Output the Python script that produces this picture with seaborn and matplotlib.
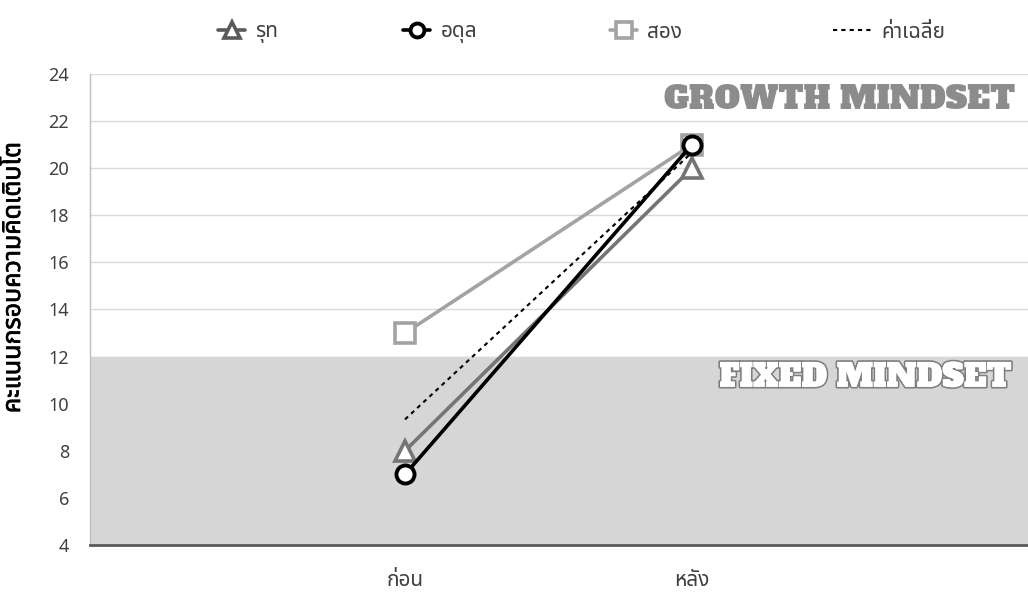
import matplotlib
matplotlib.use("Agg")
import matplotlib.pyplot as plt
from matplotlib import font_manager as fm
from matplotlib.lines import Line2D
import matplotlib.patheffects as pe
import seaborn as sns
import pandas as pd
import numpy as np

# ---- data ----
categories = ["ก่อน", "หลัง"]
series_names = ["รุท", "อดุล", "สอง"]
rut = [8, 20]
adul = [7, 21]
song = [13, 21]
avg_label = "ค่าเฉลี่ย"
y_label = "คะแนนกรอบความคิดเติบโต"
y_ticks = [4, 6, 8, 10, 12, 14, 16, 18, 20, 22, 24]
fixed_upper = 12
growth_text = "GROWTH MINDSET"
fixed_text = "FIXED MINDSET"

available = set(f.name for f in fm.fontManager.ttflist)
def pick(cands, default="DejaVu Sans"):
    for c in cands:
        if c in available:
            return c
    return default

thai = pick(["Noto Sans Thai", "Noto Sans Thai UI", "Sarabun", "Anuphan", "IBM Plex Sans Thai", "Bai Jamjuree", "Loma"])
slab = pick(["Alfa Slab One", "Roboto Slab", "Zilla Slab", "DejaVu Serif"])

sns.set_theme(style="white")
plt.rcParams["font.family"] = [thai, "DejaVu Sans"]

x_pos = list(range(len(categories)))
rows = []
for name, vals in zip(series_names, [rut, adul, song]):
    for x, v in zip(x_pos, vals):
        rows.append({"x": x, "y": v, "series": name})
df = pd.DataFrame(rows)
avg = [np.mean([a, b, c]) for a, b, c in zip(rut, adul, song)]
df_avg = pd.DataFrame({"x": x_pos, "y": avg})

W, H = 1028, 595
fig = plt.figure(figsize=(W / 100, H / 100), dpi=100)
ax = fig.add_axes([90 / W, 1 - 545 / H, 1 - 90 / W, (545 - 74) / H])

ax.axhspan(y_ticks[0], fixed_upper, color="#d6d6d6", zorder=0)
for t in y_ticks[1:]:
    ax.axhline(t, color="#d9d9d9", lw=1, zorder=0.5)

grey_song = "#a3a3a3"
grey_rut = "#757575"
for name, vals_color, mk, ms, z in [("สอง", grey_song, "s", 14, 2), ("รุท", grey_rut, "^", 15, 3)]:
    sns.lineplot(data=df[df.series == name], x="x", y="y", ax=ax, color=vals_color,
                 lw=2.6, marker=mk, markersize=ms, markerfacecolor="white",
                 markeredgecolor=vals_color, markeredgewidth=2.6, zorder=z, legend=False)
sns.lineplot(data=df_avg, x="x", y="y", ax=ax, color="black", lw=1.5, linestyle=(0, (2, 2)),
             zorder=4, legend=False)
sns.lineplot(data=df[df.series == "อดุล"], x="x", y="y", ax=ax, color="black",
             lw=2.6, marker="o", markersize=13, markerfacecolor="white",
             markeredgecolor="black", markeredgewidth=2.8, zorder=5, legend=False)

ax.set_xlim(-315 / 287, 1 + 336 / 287)
ax.set_ylim(4, 24)
ax.set_yticks(y_ticks)
ax.set_xticks(x_pos)
ax.set_xticklabels(categories)
ax.tick_params(axis="y", length=0, pad=15, labelsize=13, labelcolor="#404040")
ax.tick_params(axis="x", length=0, pad=18, labelsize=15, labelcolor="#404040")
ax.set_xlabel("")
ax.set_ylabel(y_label, fontsize=18, fontweight="bold", color="#000000",
              path_effects=[pe.withStroke(linewidth=0.5, foreground="black")])
ax.yaxis.set_label_coords(-64 / (W - 90), (545 - 278) / (545 - 74))
for s in ["top", "right"]:
    ax.spines[s].set_visible(False)
ax.spines["left"].set_color("#bfbfbf")
ax.spines["left"].set_linewidth(1)
ax.spines["bottom"].set_color("#595959")
ax.spines["bottom"].set_linewidth(2)

ax.text(0.986, 22.9, growth_text, transform=ax.get_yaxis_transform(),
        ha="right", va="center", fontsize=23, color="#8c8c8c", family=slab, zorder=6)
ax.text(0.983, 11.1, fixed_text, transform=ax.get_yaxis_transform(),
        ha="right", va="center", fontsize=23, color="white", family=slab, zorder=6,
        path_effects=[pe.withStroke(linewidth=2.5, foreground="#7f7f7f"), pe.Normal()])

handles = [
    Line2D([], [], color="#595959", lw=2.6, marker="^", ms=11, mfc="white", mec="#595959", mew=2.6),
    Line2D([], [], color="black", lw=2.6, marker="o", ms=10, mfc="white", mec="black", mew=2.8),
    Line2D([], [], color=grey_song, lw=2.6, marker="s", ms=11, mfc="white", mec=grey_song, mew=2.6),
    Line2D([], [], color="black", lw=1.5, linestyle=(0, (2, 2))),
]
labels = series_names + [avg_label]
starts = [218, 403, 610, 833]
hlens = [1.3, 1.3, 1.3, 1.8]
for h, lab, x0, hl in zip(handles, labels, starts, hlens):
    fig.legend([h], [lab], loc="center left", bbox_to_anchor=(x0 / W, 1 - 32 / H),
               frameon=False, fontsize=15, handlelength=hl, handletextpad=0.5,
               borderpad=0, borderaxespad=0, labelcolor="#404040")

fig.savefig("out.png", dpi=100)
